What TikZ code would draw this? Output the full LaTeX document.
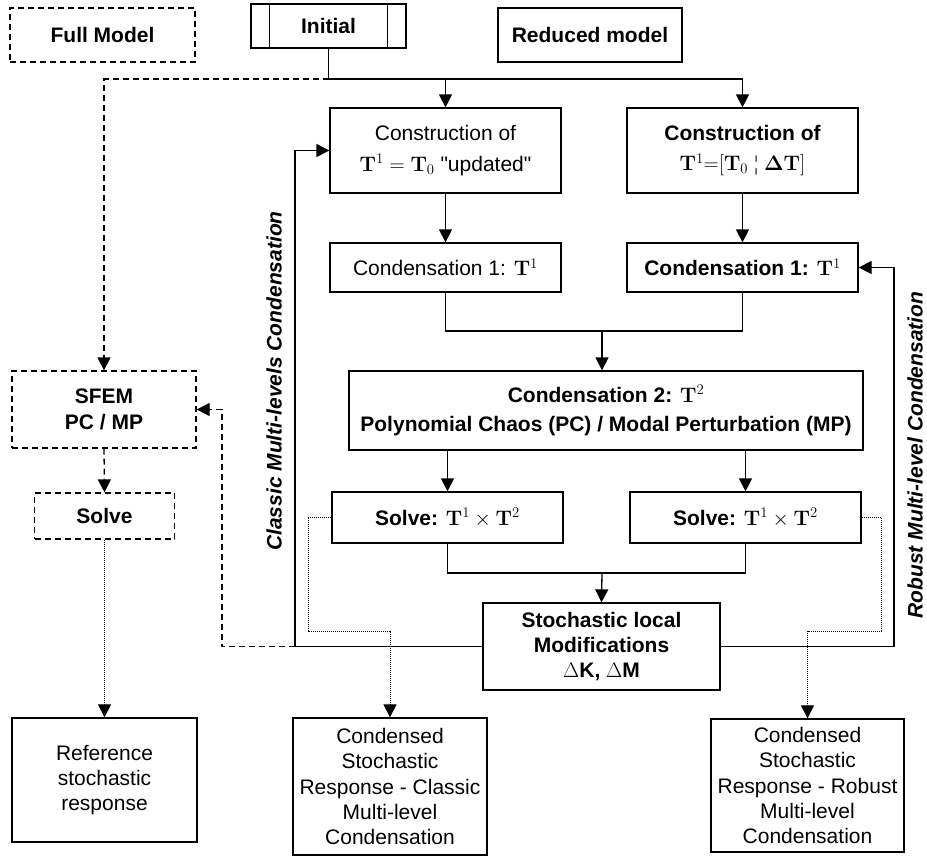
\RequirePackage{fix-cm}
\documentclass[tikz,border=0pt]{standalone}
\usepackage[no-math]{fontspec}
\setmainfont{Liberation Sans}
\newfontfamily\tms{Liberation Serif}
\newfontfamily\qf{Liberation Sans}
\usetikzlibrary{arrows.meta}
\newcommand\fsz{\fontsize{21}{25.3}\selectfont}
\tikzset{
  box/.style={draw, line width=1.3pt, inner sep=0pt, align=center, font=\fsz},
  bbox/.style={box, font=\fsz\bfseries},
  dbox/.style={bbox, dash pattern=on 6pt off 4pt},
  arr/.style={-{Triangle[length=13pt,width=13pt]}},
  ln/.style={line width=1.3pt},
  dsh/.style={line width=1.3pt, dash pattern=on 6pt off 4pt},
  dotl/.style={line width=1pt, dash pattern=on 1pt off 1pt},
  side/.style={rotate=90, font=\fsz\bfseries\itshape, inner sep=0pt}
}
\begin{document}
\begin{tikzpicture}[x=1pt,y=-1pt]
\useasboundingbox (0,0) rectangle (927,857);
% top row
\node[dbox, minimum width=185pt, minimum height=54pt] (full) at (102.5,35) {Full Model};
\node[bbox, minimum width=155pt, minimum height=44pt] (init) at (328.5,26) {Initial};
\draw[ln] ([xshift=19pt]init.north west) -- ([xshift=19pt]init.south west);
\draw[ln] ([xshift=-19pt]init.north east) -- ([xshift=-19pt]init.south east);
\node[bbox, minimum width=184pt, minimum height=54pt] (red) at (590,35) {Reduced model};
% construction
\node[box, minimum width=231pt, minimum height=85pt] (cons1) at (445.5,150.5)
  {Construction of\\[5pt] $\mathbf{T}^1=\mathbf{T}_0$ {\qf"}updated{\qf"}};
\node[bbox, minimum width=231pt, minimum height=85pt] (cons2) at (742.5,150.5)
  {Construction of\\[5pt] $\mathbf{T}^1{=}[\mathbf{T}_0\;\mbox{\tms\mdseries ¦}\;\mathbf{\Delta T}]$};
% condensation 1
\node[box, minimum width=231pt, minimum height=49pt] (c1a) at (445.5,267.5) {Condensation 1: $\mathbf{T}^1$};
\node[bbox, minimum width=231pt, minimum height=49pt] (c1b) at (742.5,267.5) {Condensation 1: $\mathbf{T}^1$};
% condensation 2
\node[bbox, minimum width=514pt, minimum height=79pt] (c2) at (606,410.5)
  {Condensation 2: $\mathbf{T}^2$\\[4pt] Polynomial Chaos (PC) / Modal Perturbation (MP)};
% solve
\node[bbox, minimum width=231pt, minimum height=51pt] (sa) at (447.5,517.5) {Solve: $\mathbf{T}^1\times\mathbf{T}^2$};
\node[bbox, minimum width=231pt, minimum height=51pt] (sb) at (745.5,517.5) {Solve: $\mathbf{T}^1\times\mathbf{T}^2$};
% stochastic
\node[bbox, minimum width=237pt, minimum height=87pt] (st) at (601.5,646.5)
  {Stochastic local\\ Modifications\\ $\Delta$K, $\Delta$M};
% left column
\node[dbox, minimum width=184pt, minimum height=77pt] (sfem) at (104,409.5) {SFEM\\ PC / MP};
\node[dbox, minimum width=140pt, minimum height=46pt] (sc) at (104.5,516) {Solve};
\node[box, minimum width=185pt, minimum height=124pt] (ref) at (104.5,780)
  {Reference\\ stochastic\\ response};
% bottom results
\node[box, minimum width=194pt, minimum height=137pt] (cc) at (390,786.5)
  {Condensed\\ Stochastic\\ Response - Classic\\ Multi-level\\ Condensation};
\node[box, minimum width=193pt, minimum height=133pt] (cr) at (807.5,785.5)
  {Condensed\\ Stochastic\\ Response - Robust\\ Multi-level\\ Condensation};
% side labels
\node[side] (lc) at (274,381) {Classic Multi-levels Condensation};
\node[side] (lr) at (915,455) {Robust Multi-level Condensation};
% coordinates
\coordinate (j0) at (328.5,79);
\coordinate (m1) at (602,331);
\coordinate (m2) at (602,573);
\coordinate (cl) at (295,646.5);
\coordinate (dl) at (222,646.5);
\coordinate (cr0) at (894,646.5);
\coordinate (d1) at (308,631);
\coordinate (d2) at (881,631);
% connectors
\draw[ln] (init.south) -- (j0);
\draw[ln,arr] (j0) -| (cons1.north);
\draw[ln,arr] (j0) -| (cons2.north);
\draw[dsh,arr] (j0) -| (sfem.north);
\draw[ln,arr] (cons1) -- (c1a);
\draw[ln,arr] (cons2) -- (c1b);
\draw[ln] (c1a.south) |- (m1);
\draw[ln] (c1b.south) |- (m1);
\draw[ln,arr] (m1) -- (m1 |- c2.north);
\draw[ln,arr] (c2.south -| sa.north) -- (sa.north);
\draw[ln,arr] (c2.south -| sb.north) -- (sb.north);
\draw[ln] (sa.south) |- (m2);
\draw[ln] (sb.south) |- (m2);
\draw[ln,arr] (m2) -- (st.north);
\draw[ln,arr] (st.west) -- (cl) |- (cons1.west);
\draw[dsh,arr] (cl) -- (dl) |- (sfem.east);
\draw[ln,arr] (st.east) -- (cr0) |- (c1b.east);
\draw[dotl,arr] (sa.west) -| (d1) -| (cc.north);
\draw[dotl,arr] (sb.east) -| (d2) -| (cr.north);
\draw[dsh,arr] (sfem.south) -- (sc.north);
\draw[dotl,arr] (sc.south) -- (ref.north);
\end{tikzpicture}
\end{document}
